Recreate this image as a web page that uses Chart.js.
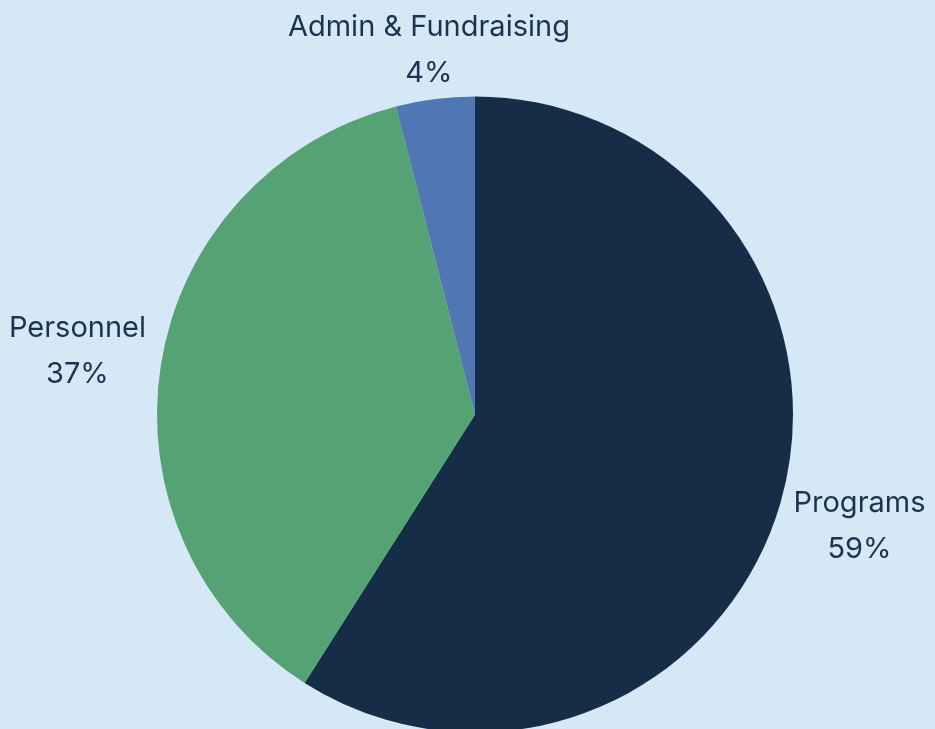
<!DOCTYPE html>
<html>
<head>
<meta charset="utf-8">
<script src="https://cdn.jsdelivr.net/npm/chart.js@4.4.0/dist/chart.umd.min.js"></script>
<style>
  html, body { margin: 0; padding: 0; background: #d5e8f5; }
  #wrap { width: 935px; height: 729px; }
</style>
</head>
<body>
<div id="wrap"><canvas id="myPieChart" width="935" height="729"></canvas></div>
<script>
// chart values
var categories = ["Programs", "Personnel", "Admin & Fundraising"];
var shares = [59, 37, 4];
var sliceColors = ["#162d47", "#55a374", "#5077b3"];

var labelFont = "29px Inter";
var labelColor = "#1b3350";

// draws "name / pct" outside each slice, placed along the slice's mid angle
var outsideLabels = {
  id: "outsideLabels",
  afterDatasetsDraw: function (chart) {
    var ctx = chart.ctx;
    var meta = chart.getDatasetMeta(0);
    var total = shares.reduce(function (a, b) { return a + b; }, 0);
    ctx.save();
    ctx.font = labelFont;
    ctx.fillStyle = labelColor;
    ctx.textAlign = "center";
    ctx.textBaseline = "middle";
    meta.data.forEach(function (arc, i) {
      var mid = (arc.startAngle + arc.endAngle) / 2;
      var dx = Math.cos(mid), dy = Math.sin(mid);
      var line1 = categories[i];
      var line2 = Math.round(shares[i] / total * 100) + "%";
      var w = Math.max(ctx.measureText(line1).width, ctx.measureText(line2).width);
      var h = 36;
      var dist = arc.outerRadius + 14 + Math.abs(dx) * w / 2 + Math.abs(dy) * h / 2;
      var cx = arc.x + dx * dist;
      var cy = arc.y + dy * dist;
      ctx.fillText(line1, cx, cy - 23);
      ctx.fillText(line2, cx, cy + 23);
    });
    ctx.restore();
  }
};

var canvasPie = document.getElementById("myPieChart");
var myPieChart = new Chart(canvasPie, {
  type: 'pie',
  data: {
    labels: categories,
    datasets: [
      {
        data: shares,
        backgroundColor: sliceColors,
        borderWidth: 0
      }
    ]
  },
  options: {
    responsive: false,
    animation: false,
    radius: 318,
    layout: { padding: { left: 15, top: 100, right: 0, bottom: 0 } },
    plugins: {
      legend: { display: false },
      tooltip: { enabled: false }
    }
  },
  plugins: [outsideLabels]
});
</script>
</body>
</html>
